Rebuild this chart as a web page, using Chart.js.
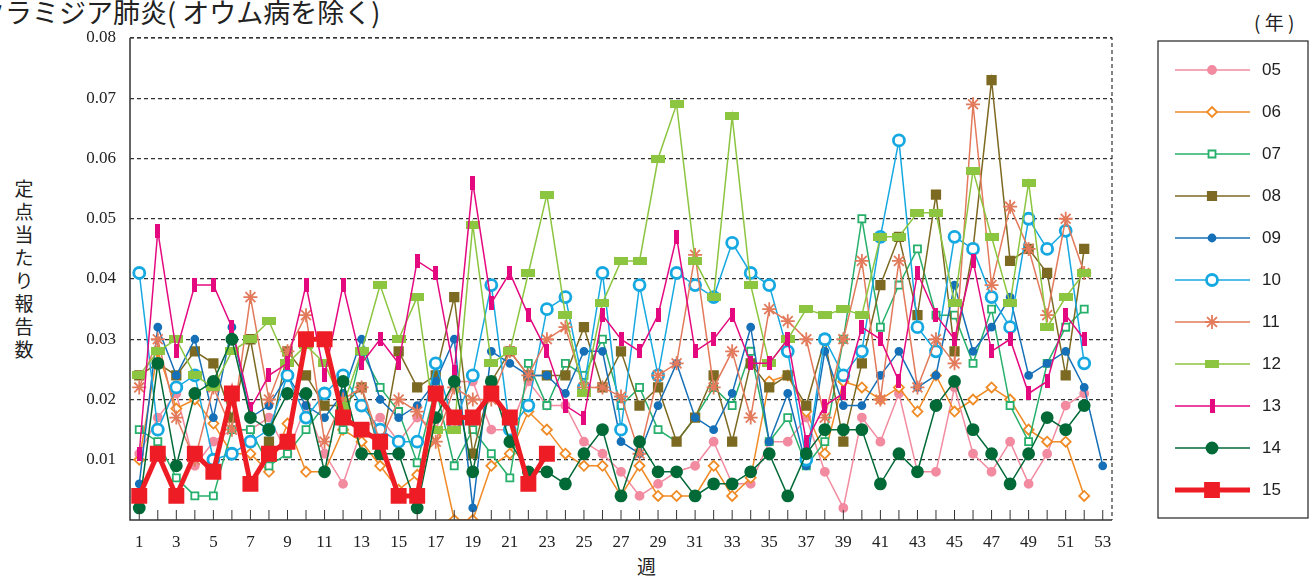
<!DOCTYPE html>
<html lang="ja">
<head>
<meta charset="utf-8">
<title>クラミジア肺炎(オウム病を除く)</title>
<script src="https://cdn.jsdelivr.net/npm/chart.js@4/dist/chart.umd.min.js"></script>
<style>
  body { margin: 0; background: #fff; width: 1313px; height: 579px; overflow: hidden; position: relative; font-family: "Noto Sans CJK JP", sans-serif; }
  #title { position: absolute; left: -22px; top: -8px; font-size: 27px; color: #222; white-space: nowrap; }
  #unit { position: absolute; left: 1254px; top: 8px; font-size: 19px; color: #222; }
  #ytitle { position: absolute; left: 12px; top: 176px; width: 24px; font-size: 19px; line-height: 23px; color: #222; text-align: center; }
  #xtitle { position: absolute; left: 637px; top: 552px; font-size: 19px; color: #222; }
  canvas { position: absolute; left: 0; top: 0; }
</style>
</head>
<body>
<div id="title">クラミジア肺炎( オウム病を除く)</div>
<div id="unit">( 年 )</div>
<div id="ytitle">定<br>点<br>当<br>た<br>り<br>報<br>告<br>数</div>
<div id="xtitle">週</div>
<canvas id="chart" width="1313" height="579"></canvas>
<script>
// week numbers 1..53
var weeks = [];
for (var w = 1; w <= 53; w++) weeks.push(w);

var y05 = [0.011,0.017,0.021,0.009,0.013,0.015,0.015,0.017,0.011,0.019,0.011,0.006,0.015,0.017,0.013,0.017,0.015,0.023,0.023,0.015,0.015,0.023,0.019,0.019,0.013,0.011,0.008,0.004,0.006,0.008,0.009,0.013,0.006,0.006,0.013,0.013,0.017,0.008,0.002,0.017,0.013,0.021,0.008,0.008,0.022,0.011,0.008,0.013,0.006,0.011,0.019,0.021];
var y06 = [0.010,0.028,0.0185,0.020,0.016,0.011,0.011,0.008,0.016,0.008,0.008,0.015,0.013,0.009,0.005,0.0075,0.014,0.000,0.000,0.009,0.011,0.018,0.015,0.011,0.009,0.009,0.004,0.009,0.004,0.004,0.004,0.009,0.004,0.007,0.023,0.024,0.018,0.011,0.023,0.022,0.020,0.022,0.018,0.024,0.018,0.020,0.022,0.020,0.015,0.013,0.013,0.004];
var y07 = [0.015,0.013,0.007,0.004,0.004,0.015,0.015,0.009,0.011,0.015,0.019,0.015,0.028,0.022,0.018,0.0095,0.022,0.009,0.015,0.011,0.007,0.026,0.019,0.026,0.024,0.030,0.019,0.022,0.015,0.013,0.017,0.022,0.019,0.028,0.013,0.017,0.009,0.013,0.030,0.050,0.032,0.039,0.045,0.034,0.034,0.026,0.035,0.019,0.013,0.026,0.032,0.035];
var y08 = [0.024,0.026,0.024,0.028,0.026,0.017,0.030,0.013,0.028,0.024,0.019,0.019,0.022,0.011,0.028,0.022,0.024,0.037,0.011,0.023,0.028,0.024,0.024,0.024,0.032,0.022,0.028,0.019,0.022,0.013,0.017,0.024,0.013,0.026,0.022,0.024,0.019,0.030,0.013,0.026,0.039,0.047,0.034,0.054,0.028,0.045,0.073,0.043,0.045,0.041,0.024,0.045];
var y09 = [0.006,0.032,0.024,0.030,0.017,0.032,0.017,0.019,0.024,0.019,0.017,0.021,0.030,0.020,0.017,0.019,0.023,0.030,0.002,0.028,0.026,0.024,0.024,0.021,0.028,0.028,0.013,0.011,0.019,0.026,0.017,0.015,0.021,0.032,0.013,0.021,0.009,0.028,0.019,0.019,0.024,0.028,0.022,0.024,0.039,0.028,0.032,0.037,0.024,0.026,0.028,0.022,0.009];
var y10 = [0.041,0.015,0.022,0.024,0.010,0.011,0.013,0.015,0.024,0.017,0.021,0.024,0.019,0.015,0.013,0.013,0.026,0.016,0.024,0.039,0.015,0.019,0.035,0.037,0.022,0.041,0.015,0.039,0.024,0.041,0.039,0.037,0.046,0.041,0.039,0.028,0.010,0.030,0.024,0.028,0.047,0.063,0.032,0.028,0.047,0.045,0.037,0.032,0.050,0.045,0.048,0.026];
var y11 = [0.022,0.030,0.017,0.010,0.022,0.015,0.037,0.020,0.028,0.034,0.013,0.020,0.022,0.013,0.020,0.018,0.013,0.022,0.020,0.020,0.028,0.024,0.030,0.032,0.022,0.022,0.0205,0.011,0.024,0.026,0.044,0.022,0.028,0.017,0.035,0.033,0.030,0.017,0.030,0.043,0.020,0.043,0.022,0.030,0.026,0.069,0.039,0.052,0.045,0.034,0.050,0.041];
var y12 = [0.024,0.028,0.030,0.024,0.022,0.028,0.030,0.033,0.026,0.029,0.026,0.019,0.028,0.039,0.030,0.037,0.015,0.015,0.049,0.026,0.028,0.041,0.054,0.034,0.021,0.036,0.043,0.043,0.060,0.069,0.043,0.037,0.067,0.039,0.026,0.030,0.035,0.034,0.035,0.034,0.047,0.047,0.051,0.051,0.036,0.058,0.047,0.036,0.056,0.032,0.037,0.041];
var y13 = [0.011,0.048,0.028,0.039,0.039,0.032,0.0185,0.024,0.026,0.039,0.024,0.039,0.026,0.030,0.026,0.043,0.041,0.0245,0.056,0.036,0.041,0.034,0.028,0.019,0.017,0.034,0.030,0.028,0.034,0.047,0.028,0.030,0.034,0.026,0.026,0.030,0.013,0.019,0.021,0.032,0.030,0.023,0.041,0.034,0.030,0.043,0.028,0.030,0.021,0.023,0.034,0.030];
var y14 = [0.002,0.026,0.009,0.021,0.023,0.030,0.017,0.015,0.021,0.021,0.008,0.023,0.011,0.011,0.011,0.002,0.017,0.023,0.008,0.023,0.013,0.008,0.008,0.006,0.011,0.015,0.004,0.013,0.008,0.008,0.004,0.006,0.006,0.008,0.011,0.004,0.011,0.015,0.015,0.015,0.006,0.011,0.008,0.019,0.023,0.015,0.011,0.006,0.011,0.017,0.015,0.019];
var y15 = [0.004,0.011,0.004,0.011,0.008,0.021,0.006,0.011,0.013,0.030,0.030,0.017,0.015,0.013,0.004,0.004,0.021,0.017,0.017,0.021,0.017,0.006,0.011];
var yTicks = [0.01,0.02,0.03,0.04,0.05,0.06,0.07,0.08];

function pts(arr) { return arr.map(function(v, i) { return {x: weeks[i], y: v}; }); }

function barMarker(w, h, color) {
  var c = document.createElement('canvas');
  c.width = w; c.height = h;
  var g = c.getContext('2d');
  g.fillStyle = color; g.fillRect(0, 0, w, h);
  return c;
}

var series = [
  {label: '05', data: y05, color: '#f28ba0', style: 'circle', r: 4, fill: true, bw: 1.5},
  {label: '06', data: y06, color: '#f08a24', style: 'rectRot', r: 5, fill: false, bw: 1.5},
  {label: '07', data: y07, color: '#27b06b', style: 'rect', r: 5, fill: false, bw: 1.5},
  {label: '08', data: y08, color: '#7d6a22', style: 'rect', r: 6, fill: true, bw: 1.5},
  {label: '09', data: y09, color: '#1670b8', style: 'circle', r: 3.5, fill: true, bw: 1.5},
  {label: '10', data: y10, color: '#16a9e1', style: 'circle', r: 5.5, fill: false, bw: 1.5},
  {label: '11', data: y11, color: '#e27a5b', style: 'star', r: 7, fill: false, bw: 1.5},
  {label: '12', data: y12, color: '#8cc540', style: barMarker(14, 8, '#8cc540'), r: 7, fill: true, bw: 1.5},
  {label: '13', data: y13, color: '#e5097f', style: barMarker(5, 14, '#e5097f'), r: 7, fill: true, bw: 1.5},
  {label: '14', data: y14, color: '#016a37', style: 'circle', r: 5.5, fill: true, bw: 1.5},
  {label: '15', data: y15, color: '#ee1d25', style: 'rect', r: 10, fill: true, bw: 5}
];

var datasets = series.map(function(s, i) {
  return {
    label: s.label,
    data: pts(s.data),
    order: series.length - i, // later years drawn on top
    borderColor: s.color,
    borderWidth: s.bw,
    pointStyle: s.style,
    pointRadius: s.r,
    pointBackgroundColor: s.fill ? s.color : '#fff',
    pointBorderColor: s.color,
    pointBorderWidth: s.label === '10' ? 2.8 : 1.8,
    tension: 0
  };
});

// frame, inward tick marks and the boxed legend
var framePlugin = {
  id: 'frame',
  afterDraw: function(chart) {
    var ctx = chart.ctx, a = chart.chartArea, xs = chart.scales.x;
    ctx.save();
    ctx.strokeStyle = '#333'; ctx.lineWidth = 1.2;
    ctx.setLineDash([4, 3]);
    ctx.beginPath();
    ctx.moveTo(a.left, a.top); ctx.lineTo(a.right, a.top); ctx.lineTo(a.right, a.bottom);
    ctx.stroke();
    ctx.setLineDash([]);
    ctx.lineWidth = 1.5;
    ctx.beginPath();
    ctx.moveTo(a.left, a.top); ctx.lineTo(a.left, a.bottom); ctx.lineTo(a.right, a.bottom);
    ctx.stroke();
    ctx.lineWidth = 1;
    weeks.forEach(function(w) {
      var px = xs.getPixelForValue(w);
      ctx.beginPath(); ctx.moveTo(px, a.bottom); ctx.lineTo(px, a.bottom - 10); ctx.stroke();
    });
    // legend
    ctx.strokeStyle = '#222'; ctx.lineWidth = 1.2;
    ctx.strokeRect(1158, 41, 150, 477);
    ctx.font = '17px "Liberation Sans", Arial, sans-serif';
    ctx.textBaseline = 'middle';
    series.forEach(function(s, i) {
      var ds = chart.data.datasets[i];
      var y = 70 + i * 42;
      ctx.strokeStyle = ds.borderColor; ctx.lineWidth = ds.borderWidth;
      ctx.beginPath(); ctx.moveTo(1175, y); ctx.lineTo(1250, y); ctx.stroke();
      ctx.fillStyle = ds.pointBackgroundColor; ctx.strokeStyle = ds.pointBorderColor; ctx.lineWidth = ds.pointBorderWidth;
      if (typeof ds.pointStyle === 'string') {
        ctx.beginPath();
        var r = ds.pointRadius;
        if (ds.pointStyle === 'circle') ctx.arc(1212, y, r, 0, Math.PI * 2);
        else if (ds.pointStyle === 'rect') ctx.rect(1212 - r * 0.7, y - r * 0.7, r * 1.4, r * 1.4);
        else if (ds.pointStyle === 'rectRot') { ctx.moveTo(1212, y - r); ctx.lineTo(1212 + r, y); ctx.lineTo(1212, y + r); ctx.lineTo(1212 - r, y); ctx.closePath(); }
        if (ds.pointStyle !== 'star') { ctx.fill(); ctx.stroke(); }
        else { Chart.helpers.drawPoint(ctx, {pointStyle: 'star', radius: r, borderWidth: 2, rotation: 0}, 1212, y); }
      } else {
        ctx.drawImage(ds.pointStyle, 1212 - ds.pointStyle.width / 2, y - ds.pointStyle.height / 2);
      }
      ctx.fillStyle = '#222';
      ctx.fillText(ds.label, 1262, y);
    });
    ctx.restore();
  }
};

new Chart(document.getElementById('chart'), {
  type: 'line',
  data: {datasets: datasets},
  plugins: [framePlugin],
  options: {
    responsive: false,
    animation: false,
    layout: {padding: {top: 38, right: 201, left: 0, bottom: 0}},
    plugins: {legend: {display: false}, tooltip: {enabled: false}},
    scales: {
      x: {
        type: 'linear', min: 0.5, max: 53.5,
        afterFit: function(s) { s.height = 59; },
        afterBuildTicks: function(s) { s.ticks = weeks.filter(function(w) { return w % 2 === 1; }).map(function(w) { return {value: w}; }); },
        grid: {display: false},
        border: {display: false},
        ticks: {color: '#222', font: {family: '"Liberation Serif", serif', size: 17}, padding: 4, maxRotation: 0, autoSkip: false}
      },
      y: {
        min: 0, max: 0.08,
        afterFit: function(s) { s.width = 130; },
        afterBuildTicks: function(s) { s.ticks = yTicks.map(function(v) { return {value: v}; }); },
        grid: {color: '#333', lineWidth: 1.2, drawTicks: false},
        border: {display: false, dash: [4, 3]},
        ticks: {color: '#222', font: {family: '"Liberation Serif", serif', size: 17}, padding: 14,
          callback: function(v) { return v.toFixed(2); }}
      }
    }
  }
});
</script>
</body>
</html>
